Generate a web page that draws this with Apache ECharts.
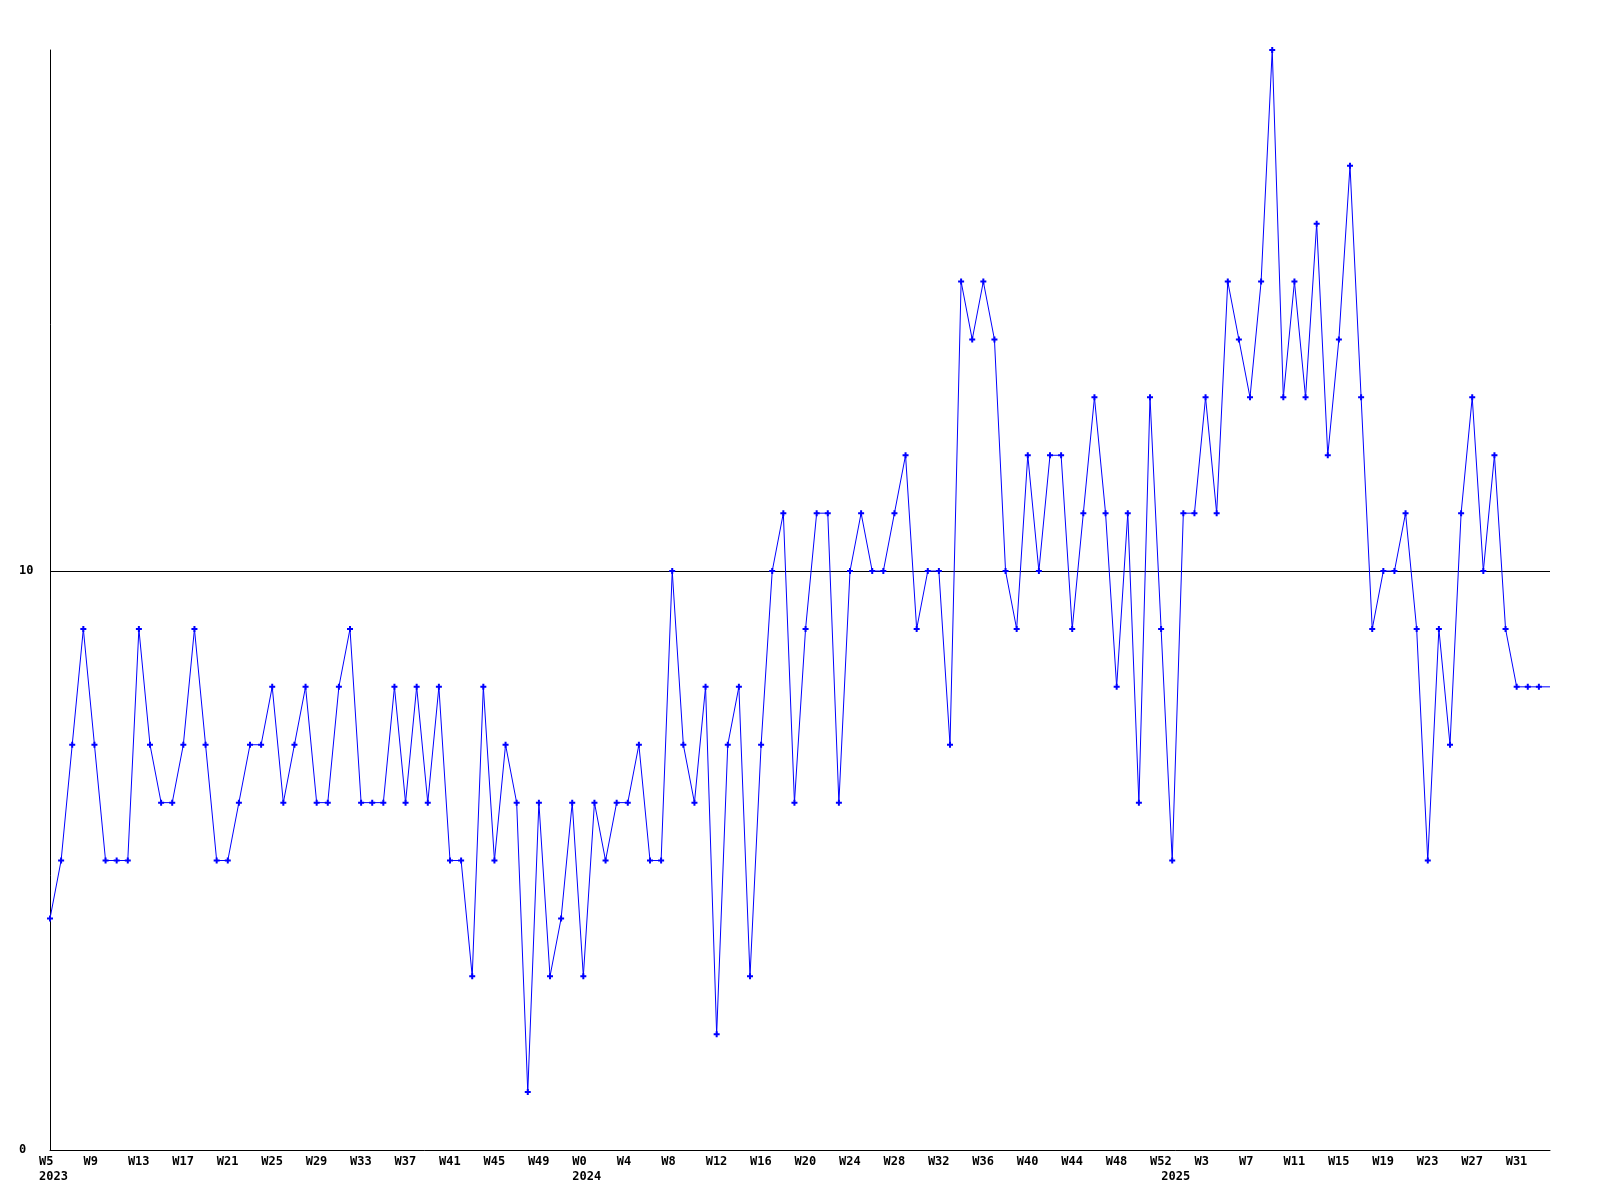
<!DOCTYPE html>
<html>
<head>
<meta charset="utf-8">
<script src="https://cdn.jsdelivr.net/npm/echarts@6/dist/echarts.min.js"></script>
<style>
html,body{margin:0;padding:0;background:#fff;}
#chart{width:1600px;height:1200px;}
</style>
</head>
<body>
<div id="chart"></div>
<script>
// Week categories (year-week)
const categories = [
  "2023-W5","2023-W6","2023-W7","2023-W8","2023-W9","2023-W10","2023-W11","2023-W12","2023-W13","2023-W14",
  "2023-W15","2023-W16","2023-W17","2023-W18","2023-W19","2023-W20","2023-W21","2023-W22","2023-W23","2023-W24",
  "2023-W25","2023-W26","2023-W27","2023-W28","2023-W29","2023-W30","2023-W31","2023-W32","2023-W33","2023-W34",
  "2023-W35","2023-W36","2023-W37","2023-W38","2023-W39","2023-W40","2023-W41","2023-W42","2023-W43","2023-W44",
  "2023-W45","2023-W46","2023-W47","2023-W48","2023-W49","2023-W50","2023-W51","2023-W52",
  "2024-W0","2024-W1","2024-W2","2024-W3","2024-W4","2024-W5","2024-W6","2024-W7","2024-W8","2024-W9",
  "2024-W10","2024-W11","2024-W12","2024-W13","2024-W14","2024-W15","2024-W16","2024-W17","2024-W18","2024-W19",
  "2024-W20","2024-W21","2024-W22","2024-W23","2024-W24","2024-W25","2024-W26","2024-W27","2024-W28","2024-W29",
  "2024-W30","2024-W31","2024-W32","2024-W33","2024-W34","2024-W35","2024-W36","2024-W37","2024-W38","2024-W39",
  "2024-W40","2024-W41","2024-W42","2024-W43","2024-W44","2024-W45","2024-W46","2024-W47","2024-W48","2024-W49",
  "2024-W50","2024-W51","2024-W52",
  "2025-W0","2025-W1","2025-W2","2025-W3","2025-W4","2025-W5","2025-W6","2025-W7","2025-W8","2025-W9",
  "2025-W10","2025-W11","2025-W12","2025-W13","2025-W14","2025-W15","2025-W16","2025-W17","2025-W18","2025-W19",
  "2025-W20","2025-W21","2025-W22","2025-W23","2025-W24","2025-W25","2025-W26","2025-W27","2025-W28","2025-W29",
  "2025-W30","2025-W31","2025-W32","2025-W33","2025-W34"
];

// Weekly counts
const counts = [
  4,5,7,9,7,5,5,5,9,7,
  6,6,7,9,7,5,5,6,7,7,
  8,6,7,8,6,6,8,9,6,6,
  6,8,6,8,6,8,5,5,3,8,
  5,7,6,1,6,3,4,6,
  3,6,5,6,6,7,5,5,10,7,
  6,8,2,7,8,3,7,10,11,6,
  9,11,11,6,10,11,10,10,11,12,
  9,10,10,7,15,14,15,14,10,9,
  12,10,12,12,9,11,13,11,8,11,
  6,13,9,
  5,11,11,13,11,15,14,13,15,19,
  13,15,13,16,12,14,17,13,9,10,
  10,11,9,5,9,7,11,13,10,12,
  9,8,8,8,8
];

// Y axis tick values shown
const yTicks = [0, 10];

const FONT = '"DejaVu Sans Mono", "Liberation Mono", monospace';

const seriesData = counts.map((v, i) =>
  i === counts.length - 1 ? { value: v, symbol: 'none' } : v
);

function yearOf(i) { return categories[i].split('-')[0]; }
function isFirstOfYear(i) { return i === 0 || yearOf(i - 1) !== yearOf(i); }

const chart = echarts.init(document.getElementById('chart'), null, { renderer: 'canvas' });

chart.setOption({
  animation: false,
  backgroundColor: '#ffffff',
  grid: [
    { left: 50, right: 50, top: 50, bottom: 50 },
    { left: 39, right: 61, top: 50, bottom: 50 }
  ],
  xAxis: [
    {
      gridIndex: 0,
      type: 'category',
      data: categories,
      boundaryGap: false,
      axisLine: { show: true, onZero: false, lineStyle: { color: '#000', width: 1 } },
      axisTick: { show: false },
      axisLabel: { show: false },
      splitLine: { show: false }
    },
    {
      gridIndex: 1,
      type: 'category',
      data: categories,
      boundaryGap: false,
      axisLine: { show: false },
      axisTick: { show: false },
      splitLine: { show: false },
      axisLabel: {
        show: true,
        interval: function (index) { return index % 4 === 0 || isFirstOfYear(index); },
        align: 'left',
        margin: 4,
        color: '#000',
        fontFamily: FONT,
        fontWeight: 'bold',
        fontSize: 12,
        lineHeight: 15,
        hideOverlap: false,
        formatter: function (value, index) {
          const parts = value.split('-');
          let s = index % 4 === 0 ? parts[1] : ' ';
          if (isFirstOfYear(index)) s += '\n' + parts[0];
          else s += '\n ';
          return s;
        }
      }
    }
  ],
  yAxis: [
    {
      gridIndex: 0,
      type: 'value',
      min: 0,
      max: 19,
      interval: 10,
      axisLine: { show: true, lineStyle: { color: '#000', width: 1 } },
      axisTick: { show: false },
      splitLine: { show: true, showMinLine: false, showMaxLine: false, lineStyle: { color: '#000', width: 1 } },
      axisLabel: {
        show: true,
        align: 'left',
        margin: 31,
        color: '#000',
        fontFamily: FONT,
        fontWeight: 'bold',
        fontSize: 12,
        showMaxLabel: false,
        formatter: function (v) { return yTicks.indexOf(v) >= 0 ? String(v) : ''; }
      }
    },
    {
      gridIndex: 1,
      type: 'value',
      min: 0,
      max: 19,
      show: false
    }
  ],
  series: [
    {
      type: 'line',
      xAxisIndex: 0,
      yAxisIndex: 0,
      data: seriesData,
      symbol: 'path://M2,0 L4,0 L4,2 L6,2 L6,4 L4,4 L4,6 L2,6 L2,4 L0,4 L0,2 L2,2 Z',
      symbolSize: 6,
      showAllSymbol: true,
      itemStyle: { color: '#0000ff' },
      lineStyle: { color: '#0000ff', width: 1 },
      emphasis: { disabled: true }
    }
  ]
});
</script>
</body>
</html>
